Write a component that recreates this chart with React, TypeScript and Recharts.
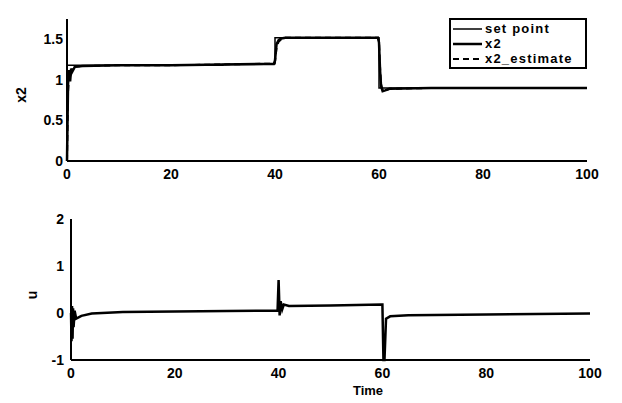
import React from "react";
import { LineChart, Line, XAxis, YAxis, Legend } from "recharts";

// upper plot: set point, x2 and its estimate
const time = [0, 0.2, 0.4, 0.6, 0.8, 1, 1.5, 3, 10, 20, 30, 39.8, 40, 40.3, 40.7, 41.2, 42, 50, 59.8, 60, 60.2, 60.4, 60.7, 61.2, 62, 70, 80, 90, 100];
const setPoint = [1.18, 1.18, 1.18, 1.18, 1.18, 1.18, 1.18, 1.18, 1.18, 1.18, 1.19, 1.2, 1.52, 1.52, 1.52, 1.52, 1.52, 1.52, 1.52, 0.9, 0.9, 0.9, 0.9, 0.9, 0.9, 0.9, 0.9, 0.9, 0.9];
const x2 = [0, 0.95, 1.12, 0.98, 1.14, 1.1, 1.16, 1.17, 1.18, 1.18, 1.19, 1.2, 1.24, 1.44, 1.49, 1.51, 1.52, 1.52, 1.52, 1.46, 1.12, 0.92, 0.86, 0.87, 0.89, 0.9, 0.9, 0.9, 0.9];
const x2Estimate = [0, 0.85, 1.05, 1.02, 1.1, 1.12, 1.16, 1.17, 1.18, 1.18, 1.19, 1.2, 1.22, 1.4, 1.47, 1.5, 1.52, 1.52, 1.52, 1.48, 1.16, 0.95, 0.87, 0.87, 0.89, 0.9, 0.9, 0.9, 0.9];

// lower plot: control signal u
const uTime = [0, 0.1, 0.2, 0.3, 0.4, 0.5, 0.7, 1, 2, 4, 10, 20, 30, 39.8, 40, 40.2, 40.4, 40.7, 41, 42, 50, 59.9, 60, 60.2, 60.4, 60.7, 61.5, 65, 80, 100];
const u = [0, -0.6, 0.15, -0.55, 0.1, -0.3, 0.05, -0.12, -0.06, -0.01, 0.02, 0.03, 0.04, 0.05, 0.7, -0.05, 0.25, 0.08, 0.18, 0.15, 0.16, 0.18, 0.18, -1, -1, -0.12, -0.07, -0.05, -0.03, -0.01];

const timeTicks = [0, 20, 40, 60, 80, 100];
const x2Ticks = [0, 0.5, 1, 1.5];
const uTicks = [-1, 0, 1, 2];

const topData = time.map((t, i) => ({
  t,
  sp: setPoint[i],
  x2: x2[i],
  est: x2Estimate[i],
}));
const bottomData = uTime.map((t, i) => ({ t, u: u[i] }));

const font = "'Liberation Sans', Arial, sans-serif";
const tickStyle = { fontSize: 14, fontWeight: 700, fill: "#000", fontFamily: font };
const axisLine = { stroke: "#000", strokeWidth: 2 };

const renderLegend = (props: any) => {
  const items = props.payload || [];
  return (
    <div
      style={{
        border: "2px solid #000",
        background: "#fff",
        width: 134,
        height: 46,
        overflow: "hidden",
        fontFamily: font,
        fontWeight: 700,
        fontSize: 13,
        letterSpacing: 1.2,
        lineHeight: "15px",
        paddingTop: 1,
        boxSizing: "content-box",
      }}
    >
      {items.map((item: any) => (
        <div key={item.value} style={{ display: "flex", alignItems: "center", whiteSpace: "nowrap", height: 15 }}>
          <svg width={34} height={13}>
            <line
              x1={2}
              x2={31}
              y1={7}
              y2={7}
              stroke="#000"
              strokeWidth={item.payload?.strokeWidth || 2}
              strokeDasharray={item.payload?.strokeDasharray}
            />
          </svg>
          <span>{item.value}</span>
        </div>
      ))}
    </div>
  );
};

export default function App() {
  return (
    <div style={{ position: "absolute", left: 0, top: 0, width: 622, height: 403, background: "#fff" }}>
      <div style={{ position: "absolute", left: 0, top: 0 }}>
        <LineChart width={622} height={195} data={topData} margin={{ top: 19, right: 35, bottom: 0, left: 0 }}>
          <XAxis
            xAxisId="b"
            dataKey="t"
            type="number"
            domain={[0, 100]}
            ticks={timeTicks}
            height={34}
            tick={tickStyle}
            tickLine={false}
            tickSize={0}
            tickMargin={8}
            axisLine={axisLine}
          />
          <XAxis xAxisId="t" orientation="top" dataKey="t" type="number" domain={[0, 100]} height={0} tick={false} tickLine={false} axisLine={axisLine} />
          <YAxis
            yAxisId="l"
            type="number"
            domain={[0, 1.75]}
            ticks={x2Ticks}
            width={67}
            tick={tickStyle}
            tickLine={false}
            tickSize={0}
            tickMargin={4}
            axisLine={axisLine}
            label={() => (
              <text x={22} y={95} transform="rotate(-90 22 95)" textAnchor="middle" dominantBaseline="middle" style={tickStyle}>
                x2
              </text>
            )}
          />
          <YAxis yAxisId="r" orientation="right" type="number" domain={[0, 1.75]} width={0} tick={false} tickLine={false} axisLine={axisLine} />
          <Legend
            layout="vertical"
            align="center"
            verticalAlign="middle"
            wrapperStyle={{ position: "absolute", left: 449, top: 18, width: 138, height: 50 }}
            content={renderLegend}
          />
          <Line xAxisId="b" yAxisId="l" name="set point" dataKey="sp" type="stepAfter" stroke="#000" strokeWidth={1.5} dot={false} isAnimationActive={false} />
          <Line xAxisId="b" yAxisId="l" name="x2" dataKey="x2" type="linear" stroke="#000" strokeWidth={2.5} dot={false} isAnimationActive={false} />
          <Line xAxisId="b" yAxisId="l" name="x2_estimate" dataKey="est" type="linear" stroke="#000" strokeWidth={2} strokeDasharray="6 4" dot={false} isAnimationActive={false} />
        </LineChart>
      </div>
      <div style={{ position: "absolute", left: 0, top: 200 }}>
        <LineChart width={622} height={203} data={bottomData} margin={{ top: 19, right: 32, bottom: 0, left: 0 }}>
          <XAxis
            xAxisId="b"
            dataKey="t"
            type="number"
            domain={[0, 100]}
            ticks={timeTicks}
            height={43}
            tick={tickStyle}
            tickLine={false}
            tickSize={0}
            tickMargin={8}
            axisLine={axisLine}
            label={() => (
              <text x={368} y={192} textAnchor="middle" dominantBaseline="middle" style={{ ...tickStyle, fontSize: 13 }}>
                Time
              </text>
            )}
          />
          <XAxis xAxisId="t" orientation="top" dataKey="t" type="number" domain={[0, 100]} height={0} tick={false} tickLine={false} axisLine={axisLine} />
          <YAxis
            yAxisId="l"
            type="number"
            domain={[-1, 2]}
            ticks={uTicks}
            width={71}
            tick={tickStyle}
            tickLine={false}
            tickSize={0}
            tickMargin={7}
            axisLine={axisLine}
            label={() => (
              <text x={33} y={95} transform="rotate(-90 33 95)" textAnchor="middle" dominantBaseline="middle" style={tickStyle}>
                u
              </text>
            )}
          />
          <YAxis yAxisId="r" orientation="right" type="number" domain={[-1, 2]} width={0} tick={false} tickLine={false} axisLine={axisLine} />
          <Line xAxisId="b" yAxisId="l" name="u" dataKey="u" type="linear" stroke="#000" strokeWidth={2.5} dot={false} isAnimationActive={false} />
        </LineChart>
      </div>
    </div>
  );
}
